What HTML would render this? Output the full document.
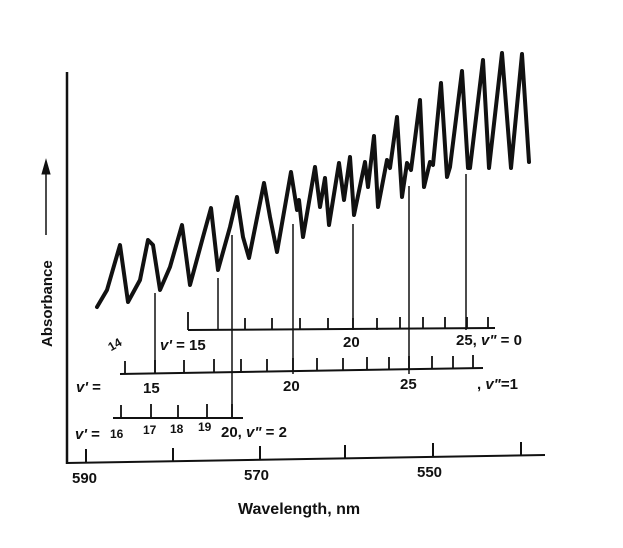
<!DOCTYPE html>
<html><head><style>body{margin:0;background:#fff}svg{display:block}text{font-family:"Liberation Sans",sans-serif;font-weight:bold;fill:#111}.i{font-style:italic}</style></head>
<body>
<svg width="623" height="548" viewBox="0 0 623 548" xmlns="http://www.w3.org/2000/svg">
<g stroke="#111" fill="none">
<line x1="67" y1="72" x2="67" y2="464" stroke-width="2.5"/>
<line x1="66" y1="463" x2="545" y2="455" stroke-width="2"/>
<g stroke-width="2">
<line x1="86" y1="463" x2="86" y2="449"/><line x1="173" y1="462" x2="173" y2="448"/><line x1="260" y1="460" x2="260" y2="446"/><line x1="345" y1="459" x2="345" y2="445"/><line x1="433" y1="457" x2="433" y2="443"/><line x1="521" y1="456" x2="521" y2="442"/>
</g>
<line x1="46" y1="235" x2="46" y2="166" stroke-width="1.5"/>
<path d="M42,174 L46,160 L50,174 Z" fill="#111"/>
<polyline stroke-width="4" stroke-linejoin="round" stroke-linecap="round" points="97,307 107,290 120,245 128,302 140,280 148,240 153,245 160,290 170,267 182,225 190,285 203,237 211,208 218,270 230,227 237,197 243,237 249,258 264,183 270,217 277,252 291,172 297,210 299,200 303,237 315,167 320,207 325,178 329,225 339,163 344,200 350,157 354,215 365,162 368,187 374,136 378,207 387,160 390,168 397,117 402,197 407,163 411,170 420,100 424,187 430,162 433,165 441,83 447,177 450,167 462,71 468,168 470,168 483,60 489,168 502,53 511,168 522,54 529,162"/>
<g stroke-width="1.5">
<line x1="155" y1="293" x2="155" y2="374"/><line x1="218" y1="278" x2="218" y2="330"/><line x1="232" y1="235" x2="232" y2="418"/><line x1="293" y1="224" x2="293" y2="374"/><line x1="353" y1="224" x2="353" y2="330"/><line x1="409" y1="186" x2="409" y2="374"/><line x1="466" y1="174" x2="466" y2="330"/>
</g>
<g stroke-width="2">
<line x1="188" y1="330" x2="495" y2="328"/>
<line x1="120" y1="374" x2="483" y2="368"/>
<line x1="113" y1="418" x2="243" y2="418"/>
</g>
<g stroke-width="1.8">
<path d="M188,330V312 M245,330V318 M272,330V318 M300,330V318 M328,330V318 M353,330V318 M377,330V318 M400,329V317 M423,329V317 M445,329V317 M467,329V317 M488,329V317"/>
<path d="M125,374V361 M155,373V360 M184,373V360 M214,372V359 M241,372V359 M267,372V359 M293,371V358 M317,371V358 M343,371V358 M367,370V357 M389,370V357 M409,369V356 M432,369V356 M453,369V356 M473,368V355"/>
<path d="M121,418V405 M151,418V404 M178,418V405 M207,418V404 M232,418V404"/>
</g>
</g>
<g font-size="15">
<text x="72" y="483">590</text><text x="244" y="480">570</text><text x="417" y="477">550</text>
<text x="238" y="514" font-size="16">Wavelength, nm</text>
<text x="160" y="350"><tspan class="i">v'</tspan> =  15</text><text x="343" y="347">20</text><text x="456" y="345">25, <tspan class="i">v"</tspan> = 0</text>
<text x="76" y="392"><tspan class="i">v'</tspan> =</text><text x="143" y="393">15</text><text x="283" y="391">20</text><text x="400" y="389">25</text><text x="477" y="389">, <tspan class="i">v"</tspan>=1</text>
<text x="75" y="439"><tspan class="i">v'</tspan> =</text><text x="221" y="437">20, <tspan class="i">v"</tspan> = 2</text>
<text transform="translate(52,347) rotate(-90)" font-size="15">Absorbance</text>
</g>
<g font-size="12" font-weight="normal" font-family="Liberation Serif,serif">
<text x="110" y="438" font-weight="normal">16</text><text x="143" y="434">17</text><text x="170" y="433">18</text><text x="198" y="431">19</text>
<text x="108" y="350" transform="rotate(-30 112 345)">14</text>
</g>
</svg>
</body></html>
